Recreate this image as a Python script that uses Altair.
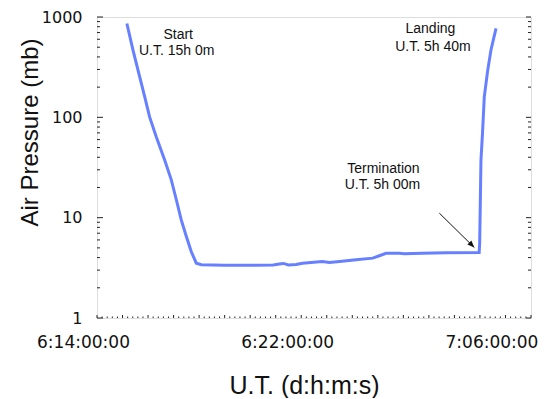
import altair as alt
import pandas as pd

# ---- data (hours since 6:14:00:00, pressure in mb) ----
hours = [1.17, 1.41, 1.67, 1.87, 2.06, 2.32, 2.65, 2.91, 3.11, 3.30, 3.50, 3.69,
         3.89, 4.09, 5.0, 6.0, 6.9, 7.15, 7.3, 7.5, 7.8, 8.05, 8.83, 9.10, 9.50,
         10.15, 10.80, 11.06, 11.32, 11.84, 12.04, 12.74, 13.67, 14.97, 14.99,
         15.01, 15.04, 15.10, 15.17, 15.30, 15.43, 15.63]
pressure = [861, 467, 254, 160, 101, 64, 37.6, 23.8, 15.0, 9.5, 6.5, 4.6,
            3.52, 3.39, 3.35, 3.35, 3.37, 3.45, 3.50, 3.38, 3.42, 3.52, 3.66, 3.57, 3.66,
            3.80, 3.95, 4.17, 4.41, 4.41, 4.36, 4.43, 4.47, 4.50, 5.6,
            12.0, 37.6, 69.3, 160, 289, 467, 769]

ann_hours = [3.18, 3.12, 13.06, 13.16, 11.22, 11.18]
ann_pressure = [659, 460, 757, 497, 30.4, 21.2]
ann_text = ["Start", "U.T. 15h 0m", "Landing", "U.T. 5h 40m", "Termination", "U.T. 5h 00m"]

arrow_h0 = [13.41]
arrow_p0 = [11.09]
arrow_h1 = [14.78]
arrow_p1 = [5.04]

x_label_values = [0, 8, 16]
x_labels = ["6:14:00:00", "6:22:00:00", "7:06:00:00"]
y_label_values = [1, 10, 100, 1000]
x_major_ticks = list(range(18))
x_minor_ticks = [round(h + k * 0.2, 1) for h in range(17) for k in range(1, 5)]
y_minor_ticks = [m * 10 ** e for e in range(3) for m in range(2, 10)]

W, H = 434, 301

df = pd.DataFrame({"hours": hours, "pressure": pressure, "idx": list(range(len(hours)))})
ann_df = pd.DataFrame({"hours": ann_hours, "pressure": ann_pressure, "label": ann_text})
arrow_df = pd.DataFrame({"h0": arrow_h0, "p0": arrow_p0, "h1": arrow_h1, "p1": arrow_p1})

xs = alt.Scale(domain=[0, 17], nice=False, zero=False)
ys = alt.Scale(type="log", domain=[1, 1000], nice=False)

label_expr = " : ".join(
    f"datum.value == {v} ? '{t}'" for v, t in zip(x_label_values, x_labels)
) + " : ''"

line = alt.Chart(df).mark_line(color="#6680FF", strokeWidth=3).encode(
    x=alt.X("hours:Q", scale=xs, title="U.T. (d:h:m:s)", axis=alt.Axis(
        values=x_label_values, labelExpr=label_expr, ticks=False, tickSize=0,
        domain=False, grid=False, labelFlush=False, labelOverlap=False,
        labelFont="DejaVu Sans", labelFontSize=17, labelColor="#111",
        labelOffset=-14, labelPadding=24, labelBaseline="middle",
        titleFont="Liberation Sans", titleFontSize=25, titleFontWeight="normal",
        titleColor="#111", titleX=207, titleY=67, titleAlign="center",
        titleBaseline="middle")),
    y=alt.Y("pressure:Q", scale=ys, title="Air Pressure (mb)", axis=alt.Axis(
        values=y_label_values, format="d", ticks=False, tickSize=0,
        domain=False, grid=False, labelFlush=False, labelOverlap=False,
        labelFont="DejaVu Sans", labelFontSize=16, labelColor="#111",
        labelPadding=15, labelBaseline="middle",
        titleFont="Liberation Sans", titleFontSize=24, titleFontWeight="normal",
        titleColor="#111", titleAngle=270, titleX=-67, titleY=115,
        titleAlign="center", titleBaseline="middle")),
    order="idx:Q",
)

text = alt.Chart(ann_df).mark_text(
    font="Liberation Sans", fontSize=14, color="#111", baseline="middle", align="center"
).encode(
    x=alt.X("hours:Q", scale=xs, axis=None),
    y=alt.Y("pressure:Q", scale=ys, axis=None),
    text="label:N",
)

rule = alt.Chart(arrow_df).mark_rule(color="#111", strokeWidth=1).encode(
    x=alt.X("h0:Q", scale=xs, axis=None),
    x2="h1:Q",
    y=alt.Y("p0:Q", scale=ys, axis=None),
    y2="p1:Q",
)

head = alt.Chart(arrow_df).mark_point(
    shape="M0,0 L-0.4,1 L0.4,1 Z", filled=True, size=196, angle=135,
    color="#111", opacity=1
).encode(
    x=alt.X("h1:Q", scale=xs, axis=None),
    y=alt.Y("p1:Q", scale=ys, axis=None),
)


# inward frame ticks, placed from the tick-value lists through the shared scales
def x_ticks(values, length):
    return alt.Chart(pd.DataFrame({"v": values})).mark_rule(
        color="#222", strokeWidth=1
    ).encode(
        x=alt.X("v:Q", scale=xs, axis=None),
        y=alt.value(H), y2=alt.value(H - length),
    )


def y_ticks(values, length, right=False):
    x0 = W if right else 0
    x1 = W - length if right else length
    return alt.Chart(pd.DataFrame({"v": values})).mark_rule(
        color="#222", strokeWidth=1
    ).encode(
        y=alt.Y("v:Q", scale=ys, axis=None),
        x=alt.value(x0), x2=alt.value(x1),
    )


frame_ticks = [
    x_ticks(x_major_ticks, 3),
    x_ticks(x_minor_ticks, 1.5),
    y_ticks(y_label_values, 6),
    y_ticks(y_minor_ticks, 3),
    y_ticks(y_label_values, 5, right=True),
    y_ticks(y_minor_ticks, 3, right=True),
]

chart = alt.layer(line, text, rule, head, *frame_ticks).resolve_axis(
    x="independent", y="independent"
).properties(
    width=W, height=H,
    autosize=alt.AutoSizeParams(type="none"),
    padding={"left": 89, "top": 9, "right": 10, "bottom": 80},
).configure_view(
    fill="#AAFFC4", stroke="#444", strokeWidth=1.5
).configure(background="white")

chart.save("out.html", embed_options={"renderer": "svg", "actions": False})
